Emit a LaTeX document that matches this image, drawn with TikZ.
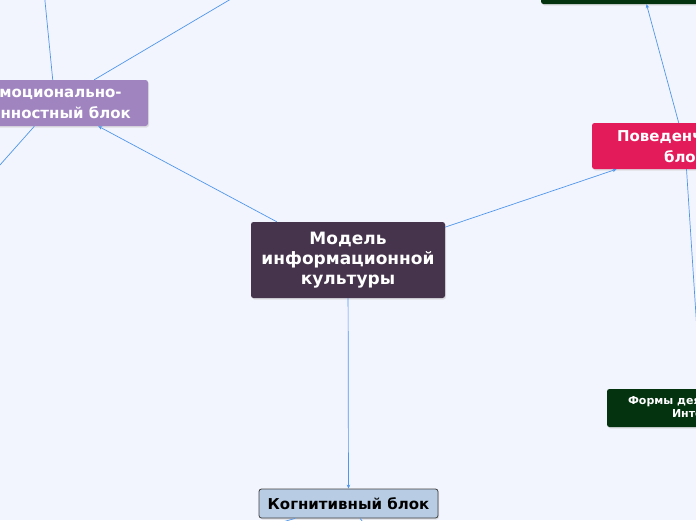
\documentclass[tikz,border=0pt]{standalone}
\usepackage{fontspec}
\setmainfont{DejaVu Sans}
\usepackage{xcolor}
\usepackage{tikz}
\usetikzlibrary{positioning,arrows.meta,shadows}
\definecolor{paper}{RGB}{242,245,254}
\definecolor{linkblue}{RGB}{80,150,235}
\definecolor{rootplum}{RGB}{69,52,75}
\definecolor{emolilac}{RGB}{160,132,192}
\definecolor{behrose}{RGB}{228,27,91}
\definecolor{cogsky}{RGB}{184,204,228}
\definecolor{formgreen}{RGB}{3,51,15}

\tikzset{
  block/.style={rectangle, rounded corners=2.5pt, inner sep=0pt, align=center,
    font=\bfseries, text=white,
    drop shadow={shadow xshift=1pt, shadow yshift=-1.5pt, fill=black!22}},
  link/.style={draw=linkblue, line width=0.7pt, -{Stealth[length=4pt,width=3.5pt]}}
}

\begin{document}
\begin{tikzpicture}[x=1pt, y=-1pt]
            \fill[paper] (0,0) rectangle (696,520);
            \clip (0,0) rectangle (696,520);

            %Nodes
            \node[block, fill=rootplum, minimum width=194, minimum height=76,
              font=\bfseries\fontsize{17}{20}\selectfont] at (348,260) (M)
              {Модель\\информационной\\культуры};
            \node[block, fill=emolilac, minimum width=186, minimum height=46,
              font=\bfseries\fontsize{15}{21}\selectfont] at (55,103) (Em)
              {Эмоционально-\\ценностный блок};
            \node[block, fill=behrose, minimum width=186, minimum height=46,
              font=\bfseries\fontsize{15}{21}\selectfont] at (685,146) (Pv)
              {Поведенческий\\блок};
            \node[block, fill=cogsky, draw=black!75, line width=0.8pt, text=black,
              minimum width=179, minimum height=29,
              font=\bfseries\fontsize{15}{18}\selectfont] at (348.5,503.5) (Kg)
              {Когнитивный блок};
            \node[block, fill=formgreen, minimum width=190, minimum height=38,
              font=\bfseries\fontsize{11}{13}\selectfont] at (702,408) (Fd)
              {Формы деятельности в\\Интернет};
            \node[block, fill=formgreen, minimum width=200, minimum height=40] at (641,-16) (Pt) {};

            \coordinate (Ea) at (40,-50);
            \coordinate (Eb) at (280,-30);
            \coordinate (Ec) at (-40,210);
            \coordinate (Ka) at (200,545);
            \coordinate (Kb) at (380,544);

            %Lines
            \draw[link] (M) -- (Em);
            \draw[link] (M) -- (Pv);
            \draw[link] (M) -- (Kg);
            \draw[link] (Pv) -- (Pt);
            \draw[link] (Pv) -- (Fd);
            \draw[link] (Em) -- (Ea);
            \draw[link] (Em) -- (Eb);
            \draw[link] (Em) -- (Ec);
            \draw[link] (Kg) -- (Ka);
            \draw[link] (Kg) -- (Kb);
        \end{tikzpicture}
\end{document}
